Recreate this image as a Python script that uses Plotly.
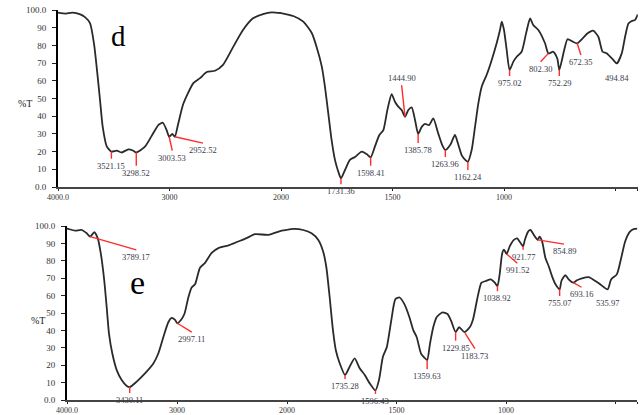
import plotly.graph_objects as go

# ---------------- data ----------------
d_wavenumber = [4000, 3930, 3870, 3800, 3758, 3713, 3677, 3647, 3623, 3599, 3563, 3521, 3473, 3429,
                3369, 3324, 3298, 3220, 3145, 3100, 3060, 3025, 3003, 2975, 2952, 2921, 2876, 2786,
                2726, 2666, 2592, 2520, 2430, 2341, 2251, 2161, 2083, 2000,
                1945, 1900, 1862, 1840, 1817, 1803, 1788, 1773, 1758, 1743, 1731, 1713, 1691, 1668,
                1638, 1616, 1598, 1579, 1559, 1541, 1523, 1504, 1489, 1474, 1459, 1444, 1429, 1414,
                1399, 1385, 1369, 1354, 1336, 1317, 1295, 1277, 1263, 1240, 1220, 1205, 1190, 1175,
                1162, 1145, 1130, 1115, 1100, 1078, 1055, 1033, 1018, 1010, 1000, 988, 975, 958, 943,
                921, 901, 883, 869, 846, 816, 801, 779, 761, 752, 730, 715, 692, 672, 647, 625, 600,
                577, 558, 540, 510, 494, 472, 457, 442, 427, 412, 400]
d_transmittance = [98.5, 98.0, 98.5, 97.5, 96.0, 92.6, 81.0, 64.0, 49.0, 34.0, 23.0, 20.0, 20.5, 19.5,
                   21.3, 20.5, 19.5, 22.8, 30.5, 35.0, 36.3, 32.0, 28.4, 30.0, 28.4, 36.0, 47.0, 58.7,
                   61.5, 65.0, 65.7, 69.0, 79.0, 88.7, 95.3, 97.7, 98.7, 98.3,
                   96.6, 93.4, 87.0, 79.0, 68.0, 56.7, 41.6, 26.5, 15.3, 8.6, 4.9, 9.6, 15.3, 17.0,
                   20.0, 18.6, 16.8, 22.8, 29.4, 32.2, 43.5, 52.4, 48.2, 45.4, 43.5, 39.7, 43.5, 45.0,
                   37.9, 30.0, 34.0, 35.6, 35.0, 38.8, 30.3, 23.7, 20.9, 24.0, 29.4, 24.0, 18.0, 15.5,
                   14.3, 20.9, 34.0, 47.3, 56.7, 63.3, 71.8, 81.2, 88.7, 93.4, 88.7, 77.4, 66.1, 70.8, 73.6,
                   76.4, 86.8, 95.3, 91.5, 88.7, 81.2, 75.5, 76.4, 72.6, 66.1, 77.4, 83.5, 82.1, 81.2, 84.0,
                   86.8, 88.3, 84.9, 76.4, 75.5, 71.8, 69.8, 75.5, 84.9, 92.4, 93.8, 94.4, 97.5]

e_wavenumber = [4000, 3988, 3927, 3866, 3821, 3789, 3752, 3721, 3691, 3661, 3639, 3618, 3588, 3548,
                3503, 3457, 3430, 3366, 3291, 3215, 3170, 3124, 3079, 3048, 3018, 2997, 2964, 2933,
                2897, 2867, 2836, 2791, 2745, 2685, 2624, 2534, 2443, 2367, 2291, 2170, 2048, 2000,
                1971, 1926, 1888, 1857, 1835, 1820, 1805, 1790, 1777, 1759, 1735, 1714, 1691, 1668,
                1645, 1623, 1596, 1580, 1562, 1544, 1524, 1505, 1486, 1464, 1441, 1423, 1408, 1388,
                1373, 1360, 1347, 1332, 1317, 1290, 1267, 1251, 1230, 1214, 1190, 1165, 1150, 1130,
                1112, 1092, 1070, 1051, 1039, 1029, 1017, 1009, 997, 983, 964, 949, 938, 922, 914, 899,
                888, 873, 855, 847, 835, 820, 805, 790, 774, 755, 747, 729, 714, 693, 676, 653, 623,
                592, 570, 536, 520, 494, 474, 456, 434, 414, 400]
e_transmittance = [98.5, 98.3, 97.3, 97.7, 95.8, 93.9, 96.4, 93.0, 83.5, 68.4, 53.2, 38.0, 26.7, 17.2,
                   11.5, 8.1, 7.4, 10.6, 15.3, 21.0, 26.7, 36.2, 44.7, 47.2, 46.0, 44.1, 46.0, 49.4,
                   58.9, 64.6, 66.5, 76.0, 78.8, 84.5, 87.3, 88.8, 91.1, 93.0, 95.3, 94.9, 97.3, 97.8,
                   98.3, 97.7, 95.8, 92.0, 85.4, 76.0, 58.9, 40.0, 28.6, 21.0, 14.4, 19.1, 23.9, 18.2,
                   14.4, 9.7, 5.5, 11.5, 24.8, 30.5, 45.6, 58.0, 58.9, 55.1, 47.6, 40.0, 36.2, 26.7,
                   24.4, 22.9, 32.4, 41.9, 47.6, 50.4, 49.4, 45.6, 39.0, 41.9, 39.0, 41.9, 46.6, 58.9,
                   67.4, 68.4, 69.3, 67.4, 65.5, 72.2, 84.5, 86.4, 83.9, 88.3, 92.0, 92.9, 91.1, 88.3, 92.0, 96.8,
                   97.7, 94.9, 92.0, 93.9, 91.1, 81.6, 76.9, 71.2, 66.5, 63.6, 68.4, 71.8, 69.3, 67.4, 68.8, 69.9, 70.6,
                   68.4, 66.5, 63.6, 69.3, 72.2, 81.6, 91.1, 96.8, 98.3, 98.5]

y_ticks = [0, 10, 20, 30, 40, 50, 60, 70, 80, 90, 100]
y_ticktext = ["0.0", "10", "20", "30", "40", "50", "60", "70", "80", "90", "100.0"]
x_hi_ticks = [4000, 3000, 2000]
x_hi_ticktext = ["4000.0", "3000", "2000"]
x_lo_ticks = [1500, 1000, 500, 400]
x_lo_ticktext = ["1500", "1000", "", "400.0"]

# peak labels: (text, peak wn, peak %T, end wn, end %T, text anchor)
d_labels = [
    ("3521.15", 3521, 20.0, 3521, 16.0, "top"),
    ("3298.52", 3298, 19.5, 3298, 12.0, "top"),
    ("3003.53", 3003, 28.4, 2975, 20.5, "top"),
    ("2952.52", 2952, 28.4, 2700, 24.8, "top"),
    ("1731.36", 1731, 4.9, 1731, 1.6, "top"),
    ("1598.41", 1598, 16.8, 1598, 12.0, "top"),
    ("1444.90", 1444, 39.7, 1459, 57.5, "bottom"),
    ("1385.78", 1385, 30.0, 1385, 24.9, "top"),
    ("1263.96", 1263, 20.9, 1263, 16.9, "top"),
    ("1162.24", 1162, 14.3, 1162, 9.6, "top"),
    ("975.02", 975, 66.1, 975, 62.7, "top"),
    ("802.30", 801, 75.5, 836, 70.8, "top"),
    ("752.29", 752, 66.1, 752, 62.7, "top"),
    ("672.35", 672, 81.2, 655, 74.6, "top"),
    ("494.84", None, None, 494, 65.5, "top"),
]
e_labels = [
    ("3789.17", 3789, 93.9, 3370, 86.3, "top"),
    ("3430.11", 3430, 7.4, 3430, 4.0, "top"),
    ("2997.11", 2997, 44.1, 2866, 39.0, "top"),
    ("1735.28", 1735, 14.4, 1735, 12.0, "top"),
    ("1596.43", 1596, 5.5, 1596, 3.5, "top"),
    ("1359.63", 1360, 22.9, 1360, 17.7, "top"),
    ("1229.85", 1230, 39.0, 1230, 34.1, "top"),
    ("1183.73", 1187, 38.5, 1142, 29.5, "top"),
    ("1038.92", 1039, 65.5, 1039, 62.5, "top"),
    ("991.52", 997, 83.9, 948, 78.6, "top"),
    ("921.77", 922, 88.3, 922, 86.3, "top"),
    ("854.89", 855, 92.0, 735, 89.6, "top"),
    ("755.07", 755, 63.6, 755, 59.8, "top"),
    ("693.16", 693, 67.4, 655, 64.8, "top"),
    ("535.97", None, None, 537, 60.0, "top"),
]

# ---------------- figure ----------------
W, H = 640, 415
SERIF = "Liberation Serif"
LINE = dict(color="#2a2a2a", width=1.8, shape="spline", smoothing=0.6)

fig = go.Figure()


def add_panel(wn, tr, xa_hi, xa_lo, ya):
    hi = [(w, t) for w, t in zip(wn, tr) if w >= 2000]
    lo = [(w, t) for w, t in zip(wn, tr) if w <= 2000]
    fig.add_trace(go.Scatter(x=[p[0] for p in hi], y=[p[1] for p in hi], xaxis=xa_hi, yaxis=ya,
                             mode="lines", line=LINE, hoverinfo="skip", showlegend=False))
    fig.add_trace(go.Scatter(x=[p[0] for p in lo], y=[p[1] for p in lo], xaxis=xa_lo, yaxis=ya,
                             mode="lines", line=LINE, hoverinfo="skip", showlegend=False))


add_panel(d_wavenumber, d_transmittance, "x", "x2", "y")
add_panel(e_wavenumber, e_transmittance, "x3", "x4", "y2")

annotations = []
shapes = []


def add_labels(labels, xa_hi, xa_lo, ya):
    for text, pw, pt, ew, et, anchor in labels:
        xref = xa_hi if ew >= 2000 else xa_lo
        if pw is not None:
            shapes.append(dict(type="line", xref=xref, yref=ya, x0=pw, y0=pt, x1=ew, y1=et,
                               line=dict(color="#ff2a2a", width=1.4)))
        annotations.append(dict(x=ew, y=et, xref=xref, yref=ya, text=text, showarrow=False,
                                xanchor="center", yanchor=anchor,
                                font=dict(family=SERIF, size=8.5, color="#3a3a4a")))


add_labels(d_labels, "x", "x2", "y")
add_labels(e_labels, "x3", "x4", "y2")

# panel letters and y titles
annotations += [
    dict(x=118 / W, y=1 - 36 / H, xref="paper", yref="paper", text="d", showarrow=False,
         xanchor="center", yanchor="middle",
         font=dict(family=SERIF, size=29, color="black")),
    dict(x=137 / W, y=1 - 282 / H, xref="paper", yref="paper", text="e", showarrow=False,
         xanchor="center", yanchor="middle",
         font=dict(family=SERIF, size=34, color="black")),
    dict(x=25 / W, y=1 - 103 / H, xref="paper", yref="paper", text="%T", showarrow=False,
         xanchor="center", yanchor="middle",
         font=dict(family=SERIF, size=10, color="#222")),
    dict(x=38 / W, y=1 - 320 / H, xref="paper", yref="paper", text="%T", showarrow=False,
         xanchor="center", yanchor="middle",
         font=dict(family=SERIF, size=10, color="#222")),
]

ytickfont = dict(family=SERIF, size=9, color="#333")
xtickfont = dict(family=SERIF, size=8, color="#333")


def xaxis(dom, rng, tv, tt, anchor):
    return dict(domain=dom, range=rng, anchor=anchor, tickvals=tv, ticktext=tt, showline=True,
                linecolor="#444", linewidth=1.5, ticks="outside", ticklen=2, tickcolor="#222",
                ticklabelstandoff=0,
                showgrid=False, zeroline=False, tickfont=xtickfont, fixedrange=True, automargin=False)


def yaxis(dom, anchor):
    return dict(domain=dom, range=[0, 100], anchor=anchor, tickvals=y_ticks, ticktext=y_ticktext,
                showline=True, linecolor="black", linewidth=2, ticks="outside", ticklen=4,
                tickcolor="#222", ticklabelstandoff=4,
                showgrid=False, zeroline=False, tickfont=ytickfont, automargin=False)


fig.update_layout(
    width=W, height=H,
    margin=dict(l=0, r=0, t=0, b=0, pad=0, autoexpand=False),
    paper_bgcolor="white", plot_bgcolor="white",
    showlegend=False,
    xaxis=xaxis([58 / W, 281 / W], [4000, 2000], x_hi_ticks, x_hi_ticktext, "y"),
    xaxis2=xaxis([281 / W, 637.8 / W], [2000, 400], x_lo_ticks, x_lo_ticktext, "y"),
    yaxis=yaxis([1 - 187 / H, 1 - 10 / H], "x"),
    xaxis3=xaxis([67 / W, 287 / W], [4000, 2000], x_hi_ticks, x_hi_ticktext, "y2"),
    xaxis4=xaxis([287 / W, 637.4 / W], [2000, 400], x_lo_ticks, x_lo_ticktext, "y2"),
    yaxis2=yaxis([1 - 400 / H, 1 - 226 / H], "x3"),
    annotations=annotations,
    shapes=shapes,
)

fig.write_html("out.html")
